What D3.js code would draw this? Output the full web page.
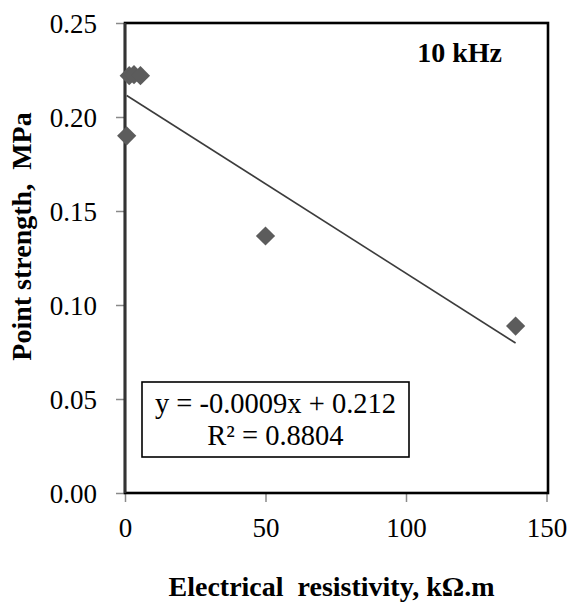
<!DOCTYPE html>
<html>
<head>
<meta charset="utf-8">
<script src="https://cdn.jsdelivr.net/npm/d3@7"></script>
<style>
  html, body { margin: 0; padding: 0; background: #fff; }
  svg { display: block; }
  text { font-family: "Liberation Serif", "Times New Roman", serif; white-space: pre; }
</style>
</head>
<body>
<svg id="chart" width="574" height="603"></svg>
<script>
// Electrical resistivity (kΩ.m) and point strength (MPa) at 10 kHz
const resistivity = [0.6, 1.5, 3.2, 5.5, 50, 139];
const pointStrength = [0.190, 0.222, 0.2225, 0.222, 0.1367, 0.0888];

const xTicks = [0, 50, 100, 150];
const yTicks = [0, 0.05, 0.10, 0.15, 0.20, 0.25];

const frequencyLabel = "10 kHz";
const equationLines = ["y = -0.0009x + 0.212", "R\u00b2 = 0.8804"];
const xTitle = "Electrical  resistivity, k\u03a9.m";
const yTitle = "Point strength,  MPa";

const svg = d3.select("#chart");
const margin = { left: 125, right: 26, top: 23, bottom: 110 };
const W = 574, H = 603;
const plotW = W - margin.left - margin.right;
const plotH = H - margin.top - margin.bottom;

const x = d3.scaleLinear().domain([0, 150]).range([margin.left, margin.left + plotW - 1.5]);
const y = d3.scaleLinear().domain([0, 0.25]).range([margin.top + plotH, margin.top]);

// Least-squares linear trend through the data
const n = resistivity.length;
const mx = d3.mean(resistivity), my = d3.mean(pointStrength);
let sxy = 0, sxx = 0;
for (let i = 0; i < n; i++) {
  sxy += (resistivity[i] - mx) * (pointStrength[i] - my);
  sxx += (resistivity[i] - mx) ** 2;
}
const slope = sxy / sxx;
const intercept = my - slope * mx;

// Axes with outward ticks
const yAxis = d3.axisLeft(y).tickValues(yTicks).tickSize(9).tickPadding(19)
  .tickFormat(d3.format(".2f"));
const xAxis = d3.axisBottom(x).tickValues(xTicks).tickSize(9).tickPadding(16)
  .tickFormat(d3.format("d"));

const gy = svg.append("g").attr("transform", `translate(${margin.left},0)`).call(yAxis);
const gx = svg.append("g").attr("transform", `translate(0,${margin.top + plotH})`).call(xAxis);

[gx, gy].forEach(g => {
  g.select(".domain").remove();
  g.selectAll(".tick line").attr("stroke", "#8a8a8a").attr("stroke-width", 1.5);
  g.selectAll(".tick text").attr("fill", "#000").style("font-size", "27px")
    .style("font-family", '"Liberation Serif", serif');
});
gy.selectAll(".tick text").attr("dy", "0.34em");
gx.selectAll(".tick text").attr("dy", "0.72em");

// Plot frame
svg.append("rect")
  .attr("x", margin.left).attr("y", margin.top)
  .attr("width", plotW).attr("height", plotH)
  .attr("fill", "none").attr("stroke", "#000").attr("stroke-width", 2.6);

// Left axis line drawn in dark grey over the frame
svg.append("line")
  .attr("x1", margin.left).attr("x2", margin.left)
  .attr("y1", margin.top).attr("y2", margin.top + plotH)
  .attr("stroke", "#333").attr("stroke-width", 2.6);

// Trend line over the data range
const xr = d3.extent(resistivity);
svg.append("line")
  .attr("x1", x(xr[0])).attr("y1", y(slope * xr[0] + intercept))
  .attr("x2", x(xr[1])).attr("y2", y(slope * xr[1] + intercept))
  .attr("stroke", "#3c3c3c").attr("stroke-width", 1.6);

// Diamond markers
const diamond = d3.symbol().type(d3.symbolSquare).size(185);
svg.append("g").selectAll("path")
  .data(resistivity.map((r, i) => [r, pointStrength[i]]))
  .join("path")
  .attr("d", diamond)
  .attr("transform", d => `translate(${x(d[0])},${y(d[1])}) rotate(45)`)
  .attr("fill", "#5c5c5c");

// Frequency tag
svg.append("text")
  .attr("x", 502).attr("y", 62)
  .attr("text-anchor", "end")
  .style("font-size", "28px").style("font-weight", "bold")
  .text(frequencyLabel);

// Regression equation box
svg.append("rect")
  .attr("x", 142).attr("y", 382).attr("width", 267).attr("height", 75)
  .attr("fill", "#fff").attr("stroke", "#000").attr("stroke-width", 1.6);
svg.append("g").selectAll("text")
  .data(equationLines)
  .join("text")
  .attr("x", 275.5)
  .attr("y", (d, i) => 413 + i * 32)
  .attr("text-anchor", "middle")
  .style("font-size", "28.5px")
  .text(d => d);

// Axis titles
svg.append("text")
  .attr("x", (margin.left + margin.left + plotW) / 2 - 5)
  .attr("y", 596)
  .attr("text-anchor", "middle")
  .style("font-size", "28px").style("font-weight", "bold")
  .text(xTitle);

svg.append("text")
  .attr("transform", "translate(31,236.5) rotate(-90)")
  .attr("text-anchor", "middle")
  .style("font-size", "28px").style("font-weight", "bold")
  .text(yTitle);
</script>
</body>
</html>
